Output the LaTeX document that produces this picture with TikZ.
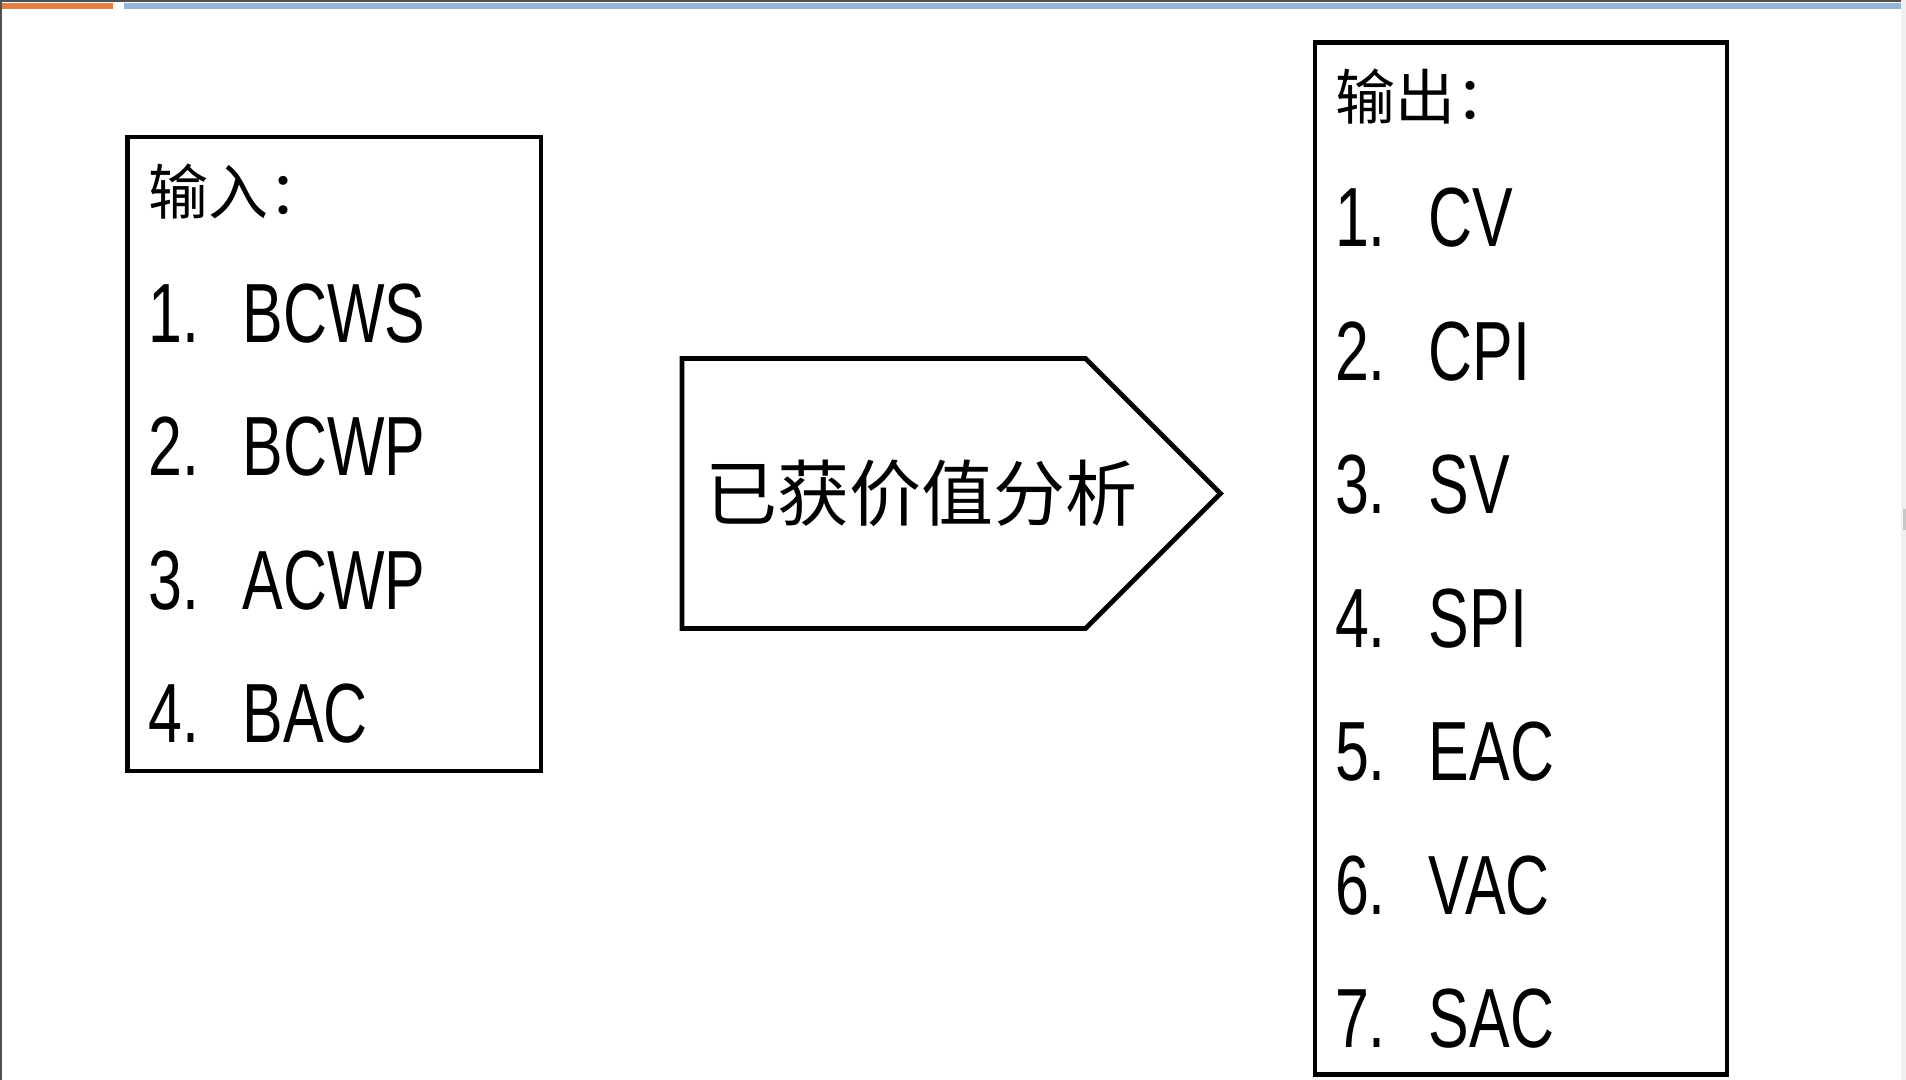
\documentclass[tikz,border=0pt]{standalone}
\usepackage{fontspec}
\setmainfont{Liberation Sans}[FakeStretch=0.725]
\newfontfamily\cjk{Noto Sans CJK SC}
\usetikzlibrary{shapes.symbols, positioning}
\definecolor{barorange}{HTML}{E08248}
\definecolor{barblue}{HTML}{94B6D4}
\definecolor{framegray}{HTML}{505050}
\definecolor{scrollgray}{HTML}{F0F0F0}
\definecolor{thumbgray}{HTML}{C8C8C8}
\tikzset{
    listbox/.style={rectangle, draw=black, line width=2.4pt, outer sep=0pt, align=left, anchor=north west, inner xsep=10pt, inner ysep=0pt, font=\fontsize{42}{66.75}\selectfont},
    procbox/.style={signal, signal to=east, signal pointer angle=90, draw=black, line width=2.4pt, outer sep=0pt, anchor=west, inner xsep=11.5pt, minimum height=135pt, font=\cjk\fontsize{36}{40}\selectfont}
}
\newcommand{\listnum}[1]{\makebox[47pt][l]{#1}}
\newcommand{\listhead}[1]{{\cjk\fontsize{30}{66.75}\selectfont #1}}

\begin{document}
\begin{tikzpicture}[x=0.5pt, y=-0.5pt]
    \useasboundingbox [fill=white] (0,0) rectangle (1906,1080);
    % page frame and top bar
    \fill [barorange] (2,3) rectangle (113,9.5);
    \fill [barblue] (124,3) rectangle (1906,9.5);
    \draw [framegray, line width=1pt] (1,1080) -- (1,1) -- (1906,1);
    \fill [scrollgray] (1901,0) rectangle (1906,1080);
    \fill [thumbgray] (1903,509) rectangle (1906,530);

    \node (inputs) [listbox, inner xsep=10.5pt, text width=185.7pt, minimum height=317pt] at (127.6,137) {\listhead{输入：}\\[-3pt]
        \listnum{1.}BCWS\\ \listnum{2.}BCWP\\ \listnum{3.}ACWP\\ \listnum{4.}BAC};
    \node (eva) [procbox] at (682,493.5) {\makebox[178.75pt][l]{已获价值分析}};
    \node (outputs) [listbox, text width=186pt, minimum height=516pt] at (1315,42.5) {\listhead{输出：}\\[-3pt]
        \listnum{1.}CV\\ \listnum{2.}CPI\\ \listnum{3.}SV\\ \listnum{4.}SPI\\ \listnum{5.}EAC\\ \listnum{6.}VAC\\ \listnum{7.}SAC};
\end{tikzpicture}
\end{document}
